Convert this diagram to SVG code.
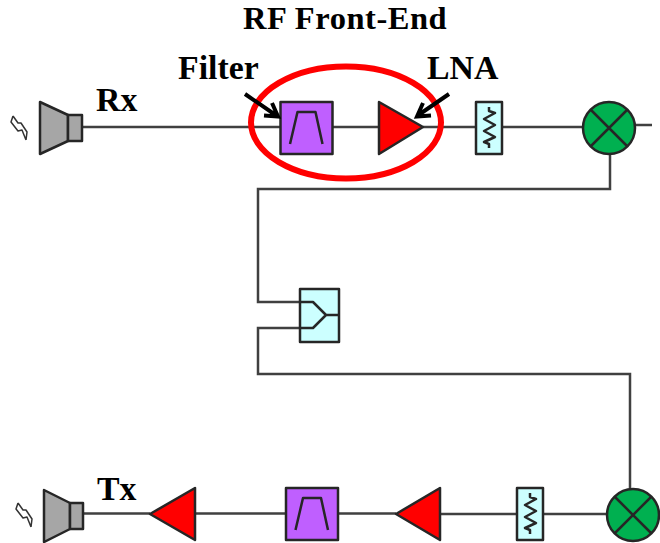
<svg xmlns="http://www.w3.org/2000/svg" width="660" height="543" viewBox="0 0 660 543">
<style>
.w{fill:none;stroke:#404040;stroke-width:2.5}
.o{stroke:#262626;stroke-width:2.5;stroke-linejoin:round}
.g{fill:#a6a6a6}.p{fill:#bf5fff}.r{fill:#ff0000}.c{fill:#ccffff}.m{fill:#00b050}
.i{fill:none;stroke:#262626;stroke-width:2.5;stroke-linejoin:round}
.z{fill:none;stroke:#333;stroke-width:1.500;stroke-linejoin:round}
.a{fill:none;stroke:#000;stroke-width:4}
.t{font-family:"Liberation Serif",serif;font-weight:700;font-size:33.800px;fill:#000}
</style>
<defs>
<g id="filter"><rect class="o p" width="52" height="52"/><path class="i" d="M9.500 42L17 10H35L42 42"/></g>
<g id="res"><rect class="o c" width="26" height="52"/><path class="i" d="M13 5V9L19 11L8 17L19 23L8 29L19 35L8 40L13 42V46"/></g>
<g id="mix"><circle class="o m" r="26"/><path class="i" d="M-18-18L18 18M-18 18L18-18"/></g>
<path id="bolt" class="z" d="M13 116L11 122L18 131L22 130L26 140M13 116L18 123L21 123L27 132L26 140"/>
</defs>
<g id="connectors">
<path class="w" d="M82 127H280M333 127H379M423 127H476M502 127H583M635 125H652"/>
<path class="w" d="M610 154V189H258V302H313L326 315L313 328H258V374H630V490"/>
<path class="w" d="M326 315H339"/>
<path class="w" d="M83 513.500H150M195 513.500H286M338 513.500H396M440 514H517M543 514H607"/>
</g>
<g id="rx-antenna"><use href="#bolt"/><path class="o g" d="M40 102L68 115V141L40 154Z"/><rect class="o g" x="68" y="115" width="14" height="26"/></g>
<g id="rx-filter"><use href="#filter" x="280.500" y="102"/></g>
<g id="lna"><path class="o r" d="M379 102L423 127L379 154Z"/></g>
<g id="rx-res"><use href="#res" x="476" y="102"/></g>
<g id="rx-mixer"><use href="#mix" x="609" y="128"/></g>
<g id="splitter"><rect class="o c" x="300" y="289" width="39" height="53"/><path class="i" d="M300 302H313L326 315L313 328H300M326 315H339"/></g>
<g id="tx-antenna"><use href="#bolt" x="5" y="387"/><path class="o g" d="M44 490L70 503V529L44 542Z"/><rect class="o g" x="70" y="503" width="13" height="26"/></g>
<g id="tx-pa"><path class="o r" d="M150 514L195 488V540Z"/></g>
<g id="tx-filter"><use href="#filter" x="286" y="488"/></g>
<g id="tx-driver"><path class="o r" d="M396 514L440 488V540Z"/></g>
<g id="tx-res"><use href="#res" x="517" y="488"/></g>
<g id="tx-mixer"><use href="#mix" x="633" y="515"/></g>
<g id="front-end"><ellipse cx="346" cy="122.500" rx="95" ry="56" fill="none" stroke="#ff0000" stroke-width="6"/></g>
<g id="callouts">
<path class="a" d="M245 94L277 116M264 115.500L278 116.500L272 103"/>
<path class="a" d="M449 94L417 116M423 103L417 116.500L431 115.500"/>
</g>
<g id="labels">
<text class="t" x="243" y="29" style="font-size:32.500px;letter-spacing:.54px">RF Front-End</text>
<text class="t" x="178" y="79">Filter</text>
<text class="t" x="427" y="79">LNA</text>
<text class="t" x="96" y="111">Rx</text>
<text class="t" x="97" y="500">Tx</text>
</g>
</svg>
